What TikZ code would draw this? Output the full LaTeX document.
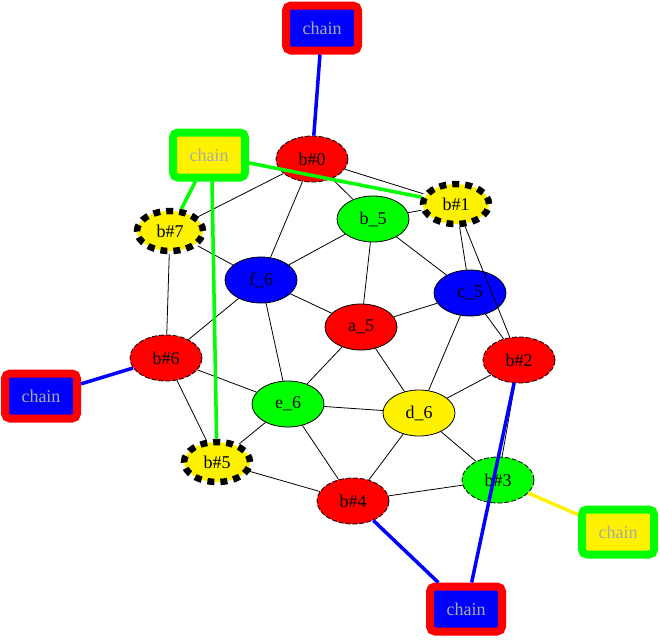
\documentclass[tikz,border=0pt]{standalone}
\usepackage{fontspec}
\setmainfont{Liberation Serif}
\usetikzlibrary{shapes.geometric}
\definecolor{chaingray}{RGB}{170,170,170}
\begin{document}
\begin{tikzpicture}[x=1pt,y=-1pt,
  every node/.style={font=\fontsize{18}{20}\selectfont},
  vtx/.style={ellipse,draw=black,line width=0.8pt,minimum width=72pt,minimum height=46pt,inner sep=0pt},
  thindash/.style={vtx,dashed,dash pattern=on 5pt off 2pt},
  thickdash/.style={vtx,line width=6.5pt,dash pattern=on 7pt off 6pt,minimum width=66pt,minimum height=40pt},
  chainbox/.style={rectangle,rounded corners=5pt,line width=8pt,minimum width=72pt,minimum height=45pt,inner sep=0pt,text=chaingray},
  edge/.style={line width=0.8pt,black},
  cedge/.style={line width=3.5pt}
]
\useasboundingbox (0,0) rectangle (660,640);
% vertices
\node[thindash,fill=red] (b0) at (312,159) {b\#0};
\node[thickdash,fill=yellow] (b1) at (456,204) {b\#1};
\node[vtx,fill=green] (b5v) at (373,219) {b\_5};
\node[thickdash,fill=yellow] (b7) at (170,231) {b\#7};
\node[vtx,fill=blue] (f6) at (261,280) {f\_6};
\node[vtx,fill=blue] (c5) at (470,293) {c\_5};
\node[vtx,fill=red] (a5) at (361,327) {a\_5};
\node[thindash,fill=red] (b6) at (166,358) {b\#6};
\node[thindash,fill=red] (b2) at (519,360) {b\#2};
\node[vtx,fill=green] (e6) at (288,404) {e\_6};
\node[vtx,fill=yellow] (d6) at (419,413) {d\_6};
\node[thickdash,fill=yellow] (b5) at (217,462) {b\#5};
\node[thindash,fill=green] (b3) at (498,480) {b\#3};
\node[thindash,fill=red] (b4) at (353,501) {b\#4};
% chain boxes
\node[chainbox,draw=red,fill=blue] (ch0) at (322,28) {chain};
\node[chainbox,draw=green,fill=yellow] (ch1) at (209,155) {chain};
\node[chainbox,draw=red,fill=blue] (ch2) at (41,396) {chain};
\node[chainbox,draw=green,fill=yellow] (ch3) at (618,532) {chain};
\node[chainbox,draw=red,fill=blue] (ch4) at (466,609) {chain};
% black edges
\foreach \a/\b in {b0/b1,b0/b7,b0/b5v,b0/f6,b1/b5v,b1/c5,b1/b2,b5v/f6,b5v/c5,b5v/a5,
  b7/f6,b7/b6,f6/a5,f6/b6,f6/e6,c5/a5,c5/d6,c5/b2,a5/e6,a5/d6,b6/b5,b6/e6,
  b2/d6,b2/b3,e6/d6,e6/b5,e6/b4,d6/b4,d6/b3,b5/b4,b4/b3}
  \draw[edge] (\a) -- (\b);
% coloured edges
\coordinate (g5) at ([xshift=3pt]ch1.south);
\draw[cedge,blue] (ch0) -- (b0);
\draw[cedge,green] (ch1) -- (b7);
\draw[cedge,green] (g5) -- (b5);
\draw[cedge,green] (ch1) -- (b1);
\draw[cedge,blue] (ch2) -- (b6);
\draw[cedge,yellow] (ch3) -- (b3);
\draw[cedge,blue] (ch4) -- (b4);
\draw[cedge,blue] (ch4) -- (b2);
\end{tikzpicture}
\end{document}
